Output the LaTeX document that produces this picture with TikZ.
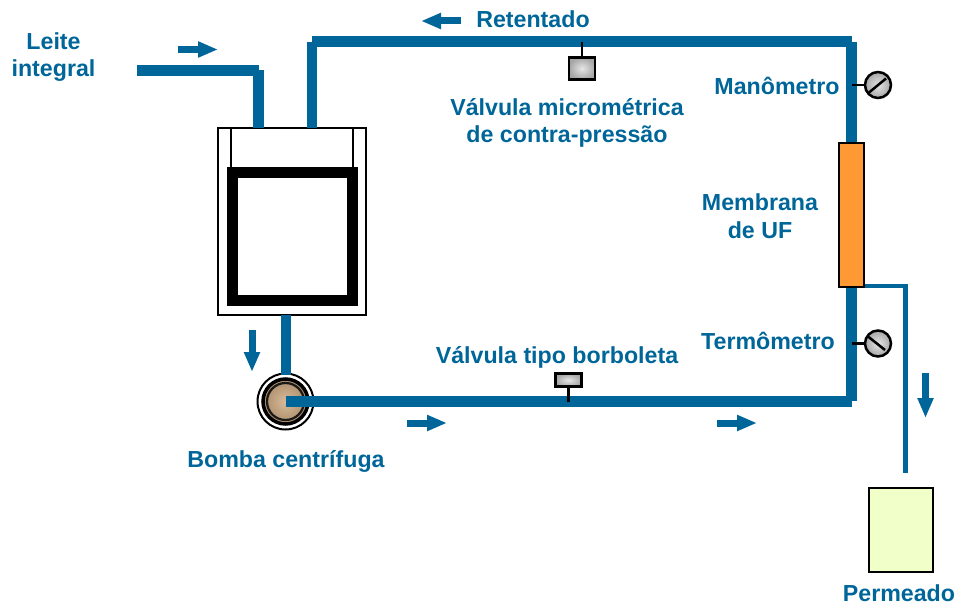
\documentclass[tikz,border=0pt]{standalone}
\usepackage{fontspec}
\setmainfont{Liberation Sans}
\usetikzlibrary{arrows.meta}
\definecolor{pipeblue}{HTML}{006699}
\definecolor{memorange}{HTML}{FF9933}
\definecolor{permfill}{HTML}{F1FFC9}
\definecolor{pumptan}{HTML}{C9A47A}
\tikzset{
  lbl/.style={font=\fontsize{23.2}{27.6}\selectfont\bfseries, text=pipeblue, align=center, inner sep=0pt},
  pipe/.style={draw=pipeblue, line width=10.5pt},
  thinpipe/.style={draw=pipeblue, line width=4.5pt},
  flow/.style={draw=pipeblue, line width=7pt, -{Triangle[length=20pt,width=15pt]}},
  stem/.style={draw=black, line width=2.5pt},
  gauge/.style={circle, draw=black, line width=2.5pt, minimum size=26pt, inner sep=0pt, inner color=gray!20, outer color=gray!70},
  valvebody/.style={rectangle, draw=black, line width=2.5pt, inner sep=0pt, inner color=gray!20, outer color=gray!70},
}
\begin{document}
\begin{tikzpicture}[x=1pt,y=-1pt]
\useasboundingbox (0,0) rectangle (960,607);

% tank
\node[draw=black, line width=2.5pt, minimum width=148pt, minimum height=187pt, inner sep=0pt] (tank) at (292,221.5) {};
\node[draw=black, line width=11pt, minimum width=120pt, minimum height=128pt, inner sep=0pt] (vessel) at (292.5,236) {};
\coordinate (tlL) at (231,128); \coordinate (vlL) at (231,168);
\coordinate (tlR) at (353,128); \coordinate (vlR) at (353,168);
\draw[black, line width=2pt] (tlL) -- (vlL);
\draw[black, line width=2pt] (tlR) -- (vlR);

% pump
\node[circle, draw=black, line width=2pt, fill=white, minimum size=56pt, inner sep=0pt] (pump) at (285.5,401.5) {};
\node[circle, draw=black, line width=3.5pt, inner color=pumptan!75!white, outer color=pumptan!85!black, minimum size=45pt, inner sep=0pt] (pumpin) at (285.5,401.5) {};
\node[circle, draw=black!90, line width=2.2pt, minimum size=37pt, inner sep=0pt] (pumpcore) at (285.5,401.5) {};

% pipe points
\coordinate (feedS) at (137,70.5);
\coordinate (feedC) at (258.7,70.5);
\coordinate (feedV) at (258.5,70.5);
\coordinate (feedE) at (258.5,128);
\coordinate (retS) at (312,128);
\coordinate (retV) at (312,41.7);
\coordinate (retH) at (312.3,41.7);
\coordinate (retHE) at (851.6,41.7);
\coordinate (retVE) at (851.6,42);
\coordinate (memT) at (851.6,143);
\coordinate (memB) at (851.6,287);
\coordinate (lowVE) at (851.6,401);
\coordinate (lowHE) at (851.6,401.5);
\coordinate (lowS) at (286,401.5);
\coordinate (tankB) at (286,315);
\coordinate (pumpT) at (286,375);

\draw[pipe] (feedS) -- (feedC);
\draw[pipe] (feedV) -- (feedE);
\draw[pipe] (retS) -- (retV);
\draw[pipe] (retH) -- (retHE);
\draw[pipe] (retVE) -- (memT);
\draw[pipe] (memB) -- (lowVE);
\draw[pipe] (lowS) -- (lowHE);
\draw[pipe] (tankB) -- (pumpT);

% membrane
\node[draw=black, line width=2.5pt, fill=memorange, minimum width=25pt, minimum height=144pt, inner sep=0pt] (membrane) at (851.3,215) {};

% permeate line
\coordinate (perC) at (905.5,286);
\coordinate (perE) at (905.5,473);
\draw[thinpipe] (membrane.east |- perC) -- ([xshift=2pt]perC);
\draw[thinpipe] ([yshift=-2pt]perC) -- (perE);
\node[draw=black, line width=1.5pt, fill=permfill, minimum width=64pt, minimum height=84pt, inner sep=0pt] (tankperm) at (901,530) {};

% valves
\node[valvebody, minimum width=26pt, minimum height=22pt] (valveA) at (582,68.5) {};
\coordinate (valveAp) at (582,42);
\draw[stem] (valveAp) -- (valveA.north);
\node[valvebody, minimum width=26pt, minimum height=13pt] (valveB) at (568.5,380) {};
\coordinate (valveBp) at (568.5,401.5);
\draw[stem] (valveB.south) -- (valveBp);

% gauges
\node[gauge] (mano) at (878,85) {};
\coordinate (manoP) at (852,85);
\draw[stem] (manoP) -- (mano.west);
\draw[stem] (869,92.5) -- (886,78.5);
\node[gauge] (termo) at (878,343.5) {};
\coordinate (termoP) at (852,343.5);
\draw[stem] (termoP) -- (termo.west);
\draw[stem] (868,336.5) -- (885,350);

% flow arrows
\coordinate (a1s) at (178,49.5); \coordinate (a1e) at (218,49.5);
\coordinate (a2s) at (461,21); \coordinate (a2e) at (421,21);
\coordinate (a3s) at (252,330); \coordinate (a3e) at (252,372);
\coordinate (a4s) at (925.5,373); \coordinate (a4e) at (925.5,418);
\coordinate (a5s) at (407,423); \coordinate (a5e) at (447,423);
\coordinate (a6s) at (717,423); \coordinate (a6e) at (757,423);
\foreach \s/\e in {a1s/a1e,a2s/a2e,a3s/a3e,a4s/a4e,a5s/a5e,a6s/a6e}
  \draw[flow] (\s) -- (\e);

% labels
\node[lbl] (tLeite) at (53.5,57.2) {Leite\\integral};
\node[lbl] (tRet) at (533,19.5) {Retentado};
\node[lbl] (tVM) at (567,123) {Válvula micrométrica\\de contra-pressão};
\node[lbl] (tMano) at (777,86) {Manômetro};
\node[lbl] (tMem) at (760,216) {Membrana\\de UF};
\node[lbl] (tTer) at (768,341) {Termômetro};
\node[lbl] (tVB) at (557,357) {Válvula tipo borboleta};
\node[lbl] (tBomba) at (286,461) {Bomba centrífuga};
\node[lbl] (tPerm) at (899,593) {Permeado};
\end{tikzpicture}
\end{document}
